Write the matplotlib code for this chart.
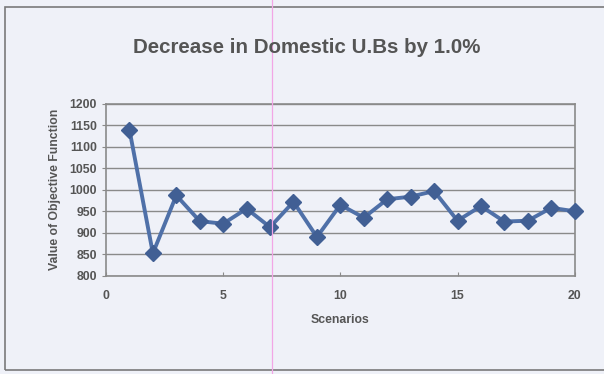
import matplotlib
matplotlib.use("Agg")
import matplotlib.pyplot as plt
from matplotlib.lines import Line2D
from matplotlib.patches import Rectangle

scenarios = list(range(1, 21))
objective = [1140, 852, 987, 927, 921, 956, 913, 972, 890, 965,
             935, 978, 984, 997, 928, 962, 926, 928, 958, 950]
x_ticks = [0, 5, 10, 15, 20]
y_ticks = [800, 850, 900, 950, 1000, 1050, 1100, 1150, 1200]

title = "Decrease in Domestic U.Bs by 1.0%"
x_label = "Scenarios"
y_label = "Value of Objective Function"

bg = "#eff1f8"
text_c = "#555555"
line_c = "#4f70a8"
mark_c = "#415f94"

plt.rcParams["font.family"] = ["Liberation Sans", "DejaVu Sans"]

fig = plt.figure(figsize=(6.04, 3.74), dpi=100, facecolor=bg)
ax = fig.add_axes([0.1755, 0.263, 0.776, 0.459])
ax.set_facecolor(bg)

# outer chart frame
fig.add_artist(Rectangle((0.009, 0.01), 0.995, 0.97, transform=fig.transFigure,
                         fill=False, edgecolor="#7a7a7a", linewidth=1.2))
# faint vertical pink line across the sheet
fig.add_artist(Line2D([0.4505, 0.4505], [0, 1], transform=fig.transFigure,
                      color="#f2a6e6", linewidth=0.9))

ax.plot(scenarios, objective, color=line_c, linewidth=2.8,
        marker="D", markersize=8.5, markerfacecolor=mark_c,
        markeredgecolor=mark_c, zorder=3, clip_on=False)

ax.set_xlim(0, 20)
ax.set_ylim(800, 1200)
ax.set_xticks(x_ticks)
ax.set_yticks(y_ticks)
ax.yaxis.grid(True, color="#8a8a8a", linewidth=1.0)
ax.set_axisbelow(True)

for s in ax.spines.values():
    s.set_color("#8a8a8a")
    s.set_linewidth(1.2)

ax.tick_params(axis="both", colors="#8a8a8a", labelcolor=text_c, labelsize=8.8,
               length=3)
ax.tick_params(axis="x", direction="in", pad=10)
for lab in ax.get_xticklabels() + ax.get_yticklabels():
    lab.set_fontweight("bold")

ax.set_xlabel(x_label, fontsize=8.8, fontweight="bold", color=text_c, labelpad=9)
ax.set_ylabel(y_label, fontsize=8.8, fontweight="bold", color=text_c, labelpad=6)
fig.text(0.508, 0.872, title, ha="center", va="center", fontsize=14.8,
         fontweight="bold", color=text_c)

fig.savefig("out.png", dpi=100, facecolor=bg)
